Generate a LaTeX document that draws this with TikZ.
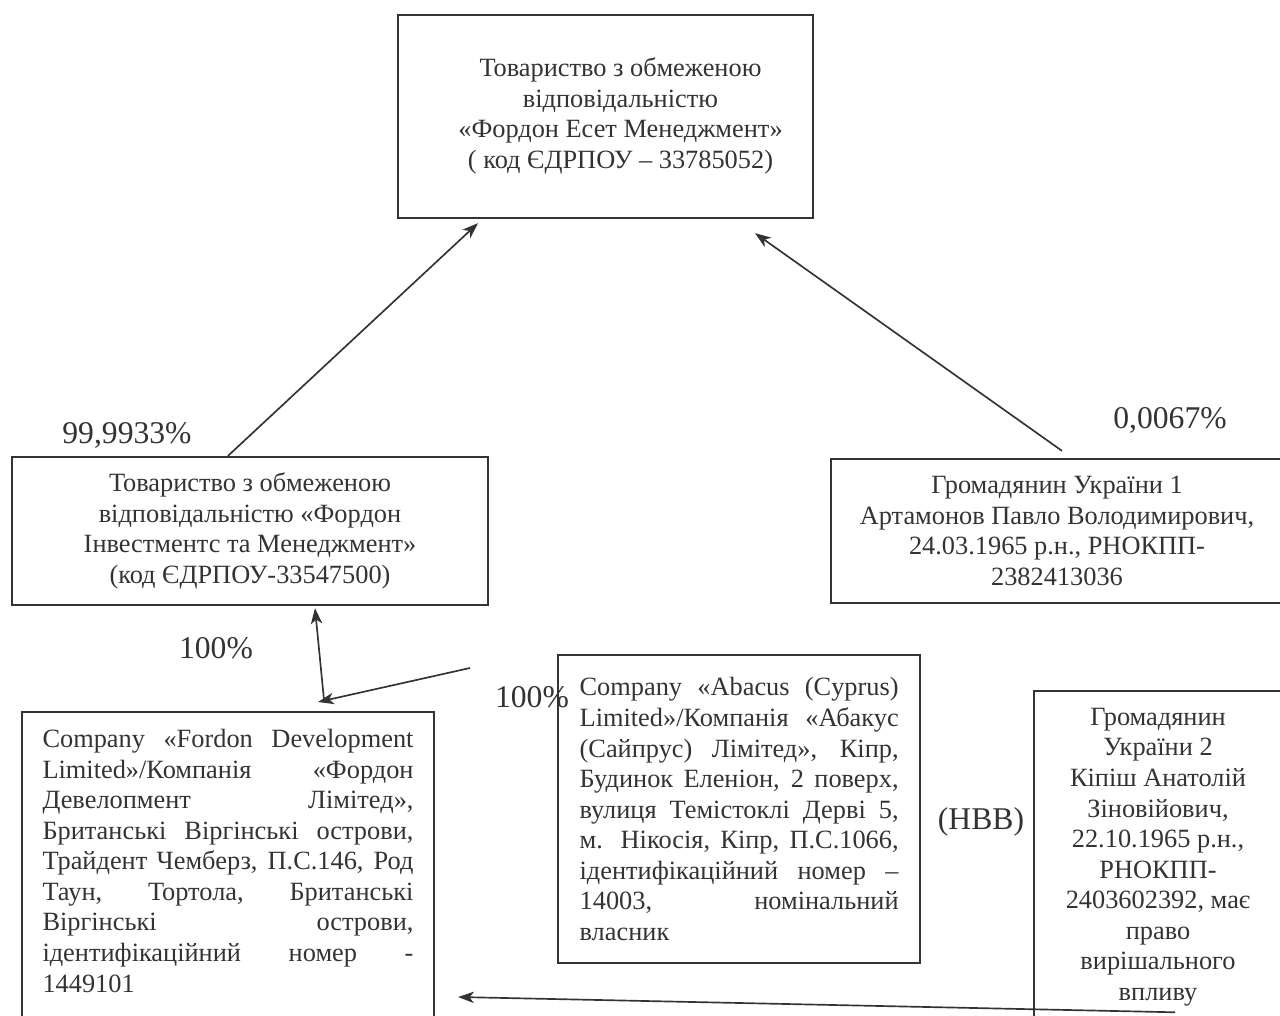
\documentclass[tikz,border=0pt]{standalone}
\usepackage{fontspec}
\setmainfont{Liberation Serif}
\usepackage{tikz}
\usetikzlibrary{arrows.meta,calc}
\definecolor{ink}{HTML}{333333}
\newcommand{\boxfont}{\fontsize{15}{17.4}\selectfont}
\newcommand{\jline}[1]{\makebox[\linewidth][s]{#1}}
\tikzset{entity/.style={draw=ink, line width=1.3pt, text=ink, font=\boxfont, align=center, inner sep=0pt},
  share/.style={text=ink, font=\fontsize{18}{21}\selectfont},
  owns/.style={draw=ink, line width=0.95pt, -{Stealth[length=9pt,width=6.5pt,inset=2.5pt]}}}

\begin{document}
\begin{tikzpicture}
\useasboundingbox (0,0) rectangle (25.6,-20.32);
\clip (0,0) rectangle (25.6,-20.32);
\draw (12.11,-2.33) node[entity, minimum width=8.3cm, minimum height=4.06cm] (A)
{\hspace*{0.6cm}\begin{tabular}{@{}c@{}}Товариство з обмеженою\\ відповідальністю\\ «Фордон Есет Менеджмент»\\ ( код ЄДРПОУ – 33785052)\end{tabular}};
\draw (5.0,-10.62) node[entity, minimum width=9.52cm, minimum height=2.96cm] (B)
{Товариство з обмеженою\\ відповідальністю «Фордон\\ Інвестментс та Менеджмент»\\ (код ЄДРПОУ-33547500)};
\draw (21.14,-10.62) node[entity, minimum width=9.04cm, minimum height=2.88cm] (C)
{Громадянин України 1\\ Артамонов Павло Володимирович,\\ 24.03.1965 р.н., РНОКПП-\\ 2382413036};
\draw (4.56,-14.22) node[entity, anchor=north, inner xsep=0.41cm, inner ysep=0.34cm] (D)
{\parbox[t][6.2cm][t]{7.42cm}{\jline{Company «Fordon Development}\\
\jline{Limited»/Компанія «Фордон}\\
\jline{Девелопмент Лімітед»,}\\
\jline{Британські Віргінські острови,}\\
\jline{Трайдент Чемберз, П.С.146, Род}\\
\jline{Таун, Тортола, Британські}\\
\jline{Віргінські острови,}\\
\jline{ідентифікаційний номер -}\\
1449101}};
\draw (11.14,-13.08) node[entity, anchor=north west, minimum width=7.24cm, minimum height=6.16cm] (E)
{\parbox{6.38cm}{\jline{Company «Abacus (Cyprus)}\\
\jline{Limited»/Компанія «Абакус}\\
\jline{(Сайпрус) Лімітед», Кіпр,}\\
\jline{Будинок Еленіон, 2 поверх,}\\
\jline{вулиця Темістоклі Дерві 5,}\\
\jline{м. Нікосія, Кіпр, П.С.1066,}\\
\jline{ідентифікаційний номер –}\\
\jline{14003, номінальний}\\
власник}};
\draw (23.16,-13.8) node[entity, anchor=north, minimum width=4.96cm, minimum height=6.64cm] (F)
{Громадянин\\ України 2\\ Кіпіш Анатолій\\ Зіновійович,\\ 22.10.1965 р.н.,\\ РНОКПП-\\ 2403602392, має\\ право\\ вирішального\\ впливу};
% shares
\draw (2.54,-8.7) node[share] (s1) {99,9933\%};
\draw (23.4,-8.4) node[share] (s2) {0,0067\%};
\draw (4.32,-12.96) node[share] (s3) {100\%};
\draw (10.64,-13.94) node[share] (s4) {100\%};
\draw (19.62,-16.44) node[share] (nvv) {(НВВ)};
% links
\coordinate (e1) at ([xshift=-1.74cm,yshift=-0.28cm]E.north west);
\draw [owns] ([xshift=-0.44cm]B.north) -- ([xshift=-2.55cm,yshift=-0.08cm]A.south);
\draw [owns] ([xshift=0.1cm,yshift=0.14cm]C.north) -- ([xshift=2.99cm,yshift=-0.28cm]A.south);
\draw [owns] ([xshift=1.92cm,yshift=0.22cm]D.north) -- ([xshift=1.3cm,yshift=-0.04cm]B.south);
\draw [owns] (e1) -- ([xshift=1.8cm,yshift=0.18cm]D.north);
\draw [owns] ([xshift=0.34cm,yshift=0.24cm]F.south) -- ([xshift=0.46cm,yshift=-5.72cm]D.north east);
\end{tikzpicture}
\end{document}
